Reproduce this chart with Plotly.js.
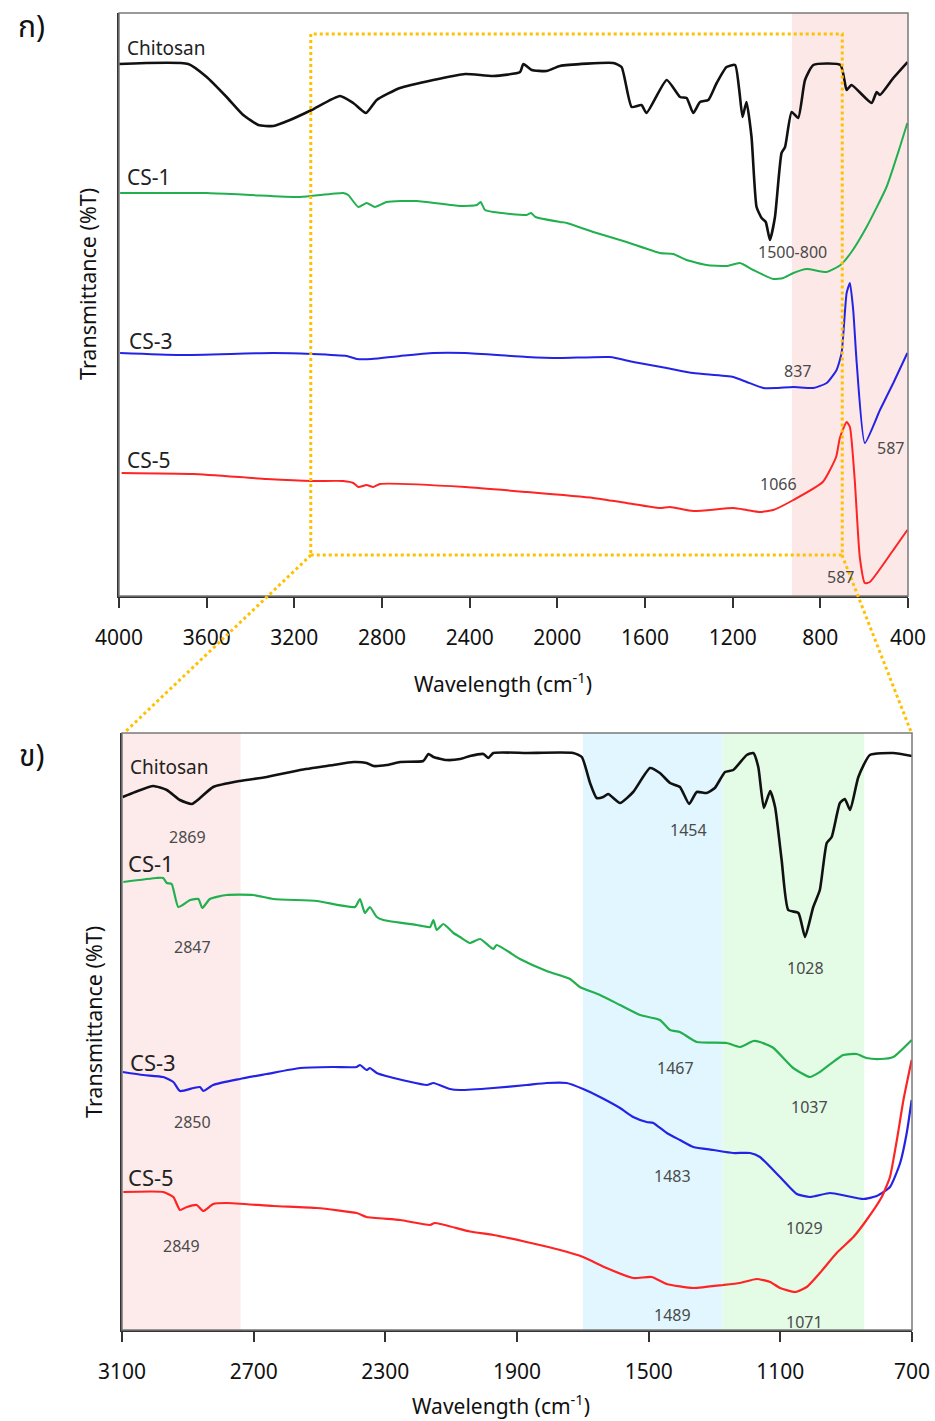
<!DOCTYPE html>
<html><head><meta charset="utf-8">
<script src="https://cdn.plot.ly/plotly-3.0.1.min.js"></script>
<style>html,body{margin:0;padding:0;background:#fff}</style>
</head><body><div id="chart" style="width:935px;height:1421px"></div>
<script>
// ---------- Panel ก) full range 4000-400 cm-1 ----------
const topTicks = [4000,3600,3200,2800,2400,2000,1600,1200,800,400];
const topWnChitosan = [4000,3684,3600,3509,3433,3364,3296,3220,3121,2992,2931,2873,2824,2718,2566,2420,2292,2170,2155,2117,2049,1988,1745,1707,1661,1616,1593,1501,1440,1410,1380,1349,1311,1273,1228,1189,1170,1155,1137,1114,1091,1068,1049,1030,1007,977,961,931,901,870,832,708,680,658,566,543,528,467,402];
const topChitosan = [53.2,53.2,51.9,49.9,48.1,47.1,47.0,47.6,48.6,50.0,49.3,48.3,49.6,50.8,51.6,52.2,52.0,52.4,53.2,52.6,52.5,53.0,53.3,52.9,48.9,49.1,48.3,51.6,49.9,49.8,48.3,49.4,49.6,51.3,52.9,53.1,50.6,47.9,49.4,45.9,38.9,37.8,37.4,35.6,37.9,44.3,44.9,48.4,47.8,51.6,53.1,53.1,50.6,51.1,49.3,50.4,50.1,51.8,53.4];
const topWnCS1 = [3995,3800,3600,3400,3174,2977,2954,2908,2870,2832,2779,2642,2444,2368,2350,2330,2292,2140,2120,2100,1988,1957,1836,1684,1532,1471,1410,1319,1228,1167,1106,1015,969,923,862,771,708,658,589,498,437,403];
const topCS1 = [40.3,40.3,40.3,40.1,39.9,40.3,40.1,38.9,39.3,38.9,39.4,39.5,39.0,39.1,39.4,38.6,38.4,38.1,38.3,37.9,37.4,37.3,36.4,35.4,34.3,34.2,33.6,33.1,33.0,33.3,32.6,31.7,31.8,32.3,32.7,32.4,33.1,34.4,36.9,40.9,44.9,47.3];
const topWnCS3 = [3995,3722,3296,3121,2961,2915,2847,2718,2566,2420,2140,1988,1760,1653,1501,1380,1197,1136,1060,999,923,832,771,726,703,680,665,650,634,597,528,467,403];
const topCS3 = [24.3,24.1,24.3,24.2,24.0,23.7,23.7,24.0,24.3,24.3,23.9,23.8,23.9,23.4,22.8,22.3,21.9,21.4,20.8,20.8,20.9,20.8,21.3,22.6,24.3,30.3,31.3,28.6,23.3,15.3,18.6,21.3,24.3];
const topWnCS5 = [3988,3661,3326,3121,2977,2931,2908,2870,2840,2809,2420,2140,1836,1684,1532,1486,1380,1197,1136,1075,1015,923,789,728,711,680,665,643,620,597,574,467,403];
const topCS5 = [12.3,12.2,11.7,11.5,11.5,11.3,10.9,11.1,10.9,11.2,10.9,10.4,9.8,9.3,8.8,8.9,8.5,8.8,8.6,8.4,8.6,9.6,11.4,13.9,15.8,17.4,16.9,11.6,3.9,1.3,1.4,4.6,6.6];

// ---------- Panel ข) zoom 3100-700 cm-1 ----------
const botTicks = [3100,2700,2300,1900,1500,1100,700];
const botWnChitosan = [3098,3060,3005,2964,2924,2888,2863,2823,2742,2660,2559,2458,2397,2357,2336,2296,2255,2185,2169,2154,2114,2073,2043,2002,1987,1972,1871,1729,1703,1678,1658,1638,1623,1587,1547,1496,1466,1435,1405,1377,1354,1324,1299,1268,1243,1202,1182,1167,1150,1131,1116,1096,1076,1045,1025,1000,980,959,944,919,904,888,863,828,757,700];
const botChitosan = [53.3,53.8,54.4,54.0,53.0,52.6,53.2,54.3,54.9,55.3,56.0,56.5,56.8,56.7,56.4,56.5,56.8,56.9,57.6,57.3,57.0,57.1,57.4,57.6,57.2,57.7,57.7,57.7,57.3,54.7,53.2,53.3,53.6,52.7,53.8,56.2,55.7,54.7,54.3,52.6,53.8,53.7,54.2,55.8,56.0,57.5,57.7,56.3,52.2,53.9,52.3,47.0,42.0,41.7,39.3,42.3,44.0,48.7,49.3,52.7,53.1,52.0,55.3,57.5,57.7,57.4];
const botWnCS1 = [3096,2995,2975,2964,2949,2929,2893,2868,2856,2833,2782,2701,2640,2508,2392,2377,2362,2347,2326,2306,2205,2164,2154,2144,2124,2093,2073,2043,2012,1972,1962,1891,1810,1739,1709,1648,1587,1526,1466,1435,1405,1354,1263,1223,1182,1162,1121,1061,1010,980,909,868,838,797,757,701];
const botCS1 = [44.8,45.2,45.2,44.7,44.6,42.3,43.0,43.1,42.2,43.1,43.5,43.5,43.1,42.9,42.3,43.1,41.7,42.3,41.3,41.0,40.5,40.3,41.0,40.0,40.6,39.7,39.3,38.7,39.1,38.1,38.5,37.1,35.9,35.1,34.3,33.5,32.5,31.5,31.0,30.0,29.8,28.8,28.7,28.3,28.9,28.8,28.2,26.2,25.3,25.8,27.5,27.6,27.2,27.1,27.3,29.0];
const botWnCS3 = [3098,3035,2975,2944,2924,2883,2863,2853,2823,2742,2660,2559,2458,2387,2377,2357,2347,2326,2286,2174,2154,2104,2073,1972,1871,1810,1749,1699,1648,1587,1547,1506,1486,1445,1405,1364,1303,1243,1192,1162,1101,1050,1010,949,898,848,807,767,736,716,701];
const botCS3 = [25.8,25.5,25.3,24.8,23.9,24.2,24.3,23.9,24.5,25.1,25.6,26.2,26.3,26.3,26.5,26.0,26.2,25.7,25.3,24.5,24.7,24.1,24.0,24.2,24.5,24.7,24.7,24.1,23.3,22.2,21.3,20.8,20.7,19.7,19.0,18.3,18.0,17.7,17.7,17.3,15.3,13.6,13.3,13.7,13.4,13.1,13.4,14.3,16.7,19.7,23.0];
const botWnCS5 = [3096,2975,2944,2924,2903,2873,2853,2823,2782,2640,2508,2387,2357,2255,2164,2150,2043,1972,1871,1769,1699,1628,1547,1491,1445,1364,1273,1223,1172,1131,1101,1055,1020,980,929,878,838,792,767,746,726,701];
const botCS5 = [13.8,13.8,13.3,12.0,12.3,12.5,11.9,12.6,12.7,12.4,12.2,11.7,11.3,11.0,10.5,10.7,9.85,9.5,8.8,8.0,7.3,6.2,5.2,5.3,4.6,4.2,4.5,4.7,5.1,4.8,4.2,3.8,4.3,5.7,7.7,9.3,11.0,13.3,15.3,19.0,23.0,27.0];

// labels
const sampleNames = ['Chitosan','CS-1','CS-3','CS-5'];
const topPeakText = ['1500-800','837','587','1066','587'];
const topPeakX = [925,902,482,993,710];
const topPeakY = [34.4,22.5,14.8,11.2,1.9];
const botPeakText = ['2869','2847','2850','2849','1454','1028','1467','1037','1483','1029','1489','1071'];
const botPeakX = [2900,2887,2887,2918,1380,1025,1417,1010,1429,1028,1429,1028];
const botPeakY = [49.3,38.3,20.8,8.4,50.0,36.2,26.2,22.3,15.4,10.2,1.5,0.8];

const colors = ['#111111','#22b04e','#2323e6','#ff2424'];
const FONT = "'Noto Sans','Open Sans','DejaVu Sans',sans-serif";
const THAI = "'Noto Sans Thai','Noto Sans Thai UI','Loma','Garuda','Norasi','Noto Sans','DejaVu Sans',sans-serif";

const topX = [topWnChitosan, topWnCS1, topWnCS3, topWnCS5];
const topY = [topChitosan, topCS1, topCS3, topCS5];
const botX = [botWnChitosan, botWnCS1, botWnCS3, botWnCS5];
const botY = [botChitosan, botCS1, botCS3, botCS5];

const traces = [];
for (let i = 0; i < 4; i++) {
  traces.push({x: topX[i], y: topY[i], xaxis: 'x', yaxis: 'y', type: 'scatter', mode: 'lines',
    name: sampleNames[i], line: {color: colors[i], width: i === 0 ? 2.6 : 2, shape: 'spline', smoothing: 0.5}, hoverinfo: 'skip'});
}
for (let i = 0; i < 4; i++) {
  traces.push({x: botX[i], y: botY[i], xaxis: 'x2', yaxis: 'y2', type: 'scatter', mode: 'lines',
    name: sampleNames[i], line: {color: colors[i], width: i === 0 ? 2.6 : 2.2, shape: 'spline', smoothing: 0.5}, hoverinfo: 'skip'});
}

const W = 935, H = 1421;
const px = v => v / W, py = v => 1 - v / H;

const xCommon = {ticks: 'outside', ticklen: 10, tickwidth: 2, tickcolor: '#333', showline: true,
  linecolor: '#333', linewidth: 2, showgrid: false, zeroline: false, ticklabelstandoff: 12,
  tickfont: {family: FONT, size: 21, color: '#111'}, tickmode: 'array', fixedrange: true};
const yCommon = {showline: true, linecolor: '#333', linewidth: 2, showticklabels: false, ticks: '',
  showgrid: false, zeroline: false, fixedrange: true};

const gold = '#ffc000';
const shapes = [
  {type: 'rect', xref: 'x', yref: 'y domain', x0: 930, x1: 400, y0: 0, y1: 1, fillcolor: '#fde8e8', line: {width: 0}, layer: 'below'},
  {type: 'rect', xref: 'x2', yref: 'y2 domain', x0: 3100, x1: 2740, y0: 0, y1: 1, fillcolor: '#fdeaea', line: {width: 0}, layer: 'below'},
  {type: 'rect', xref: 'x2', yref: 'y2 domain', x0: 1700, x1: 1275, y0: 0, y1: 1, fillcolor: '#e1f6fe', line: {width: 0}, layer: 'below'},
  {type: 'rect', xref: 'x2', yref: 'y2 domain', x0: 1275, x1: 845, y0: 0, y1: 1, fillcolor: '#e4fbe6', line: {width: 0}, layer: 'below'},
  {type: 'rect', xref: 'x domain', yref: 'y domain', x0: 0, x1: 1, y0: 0, y1: 1, line: {color: '#7a7a7a', width: 1.5}},
  {type: 'rect', xref: 'x2 domain', yref: 'y2 domain', x0: 0, x1: 1, y0: 0, y1: 1, line: {color: '#7a7a7a', width: 1.5}},
  {type: 'rect', xref: 'x', yref: 'y', x0: 3125, x1: 700, y0: 4.1, y1: 56.2, line: {color: gold, width: 3, dash: 'dot'}},
  {type: 'line', xref: 'paper', yref: 'paper', x0: px(311), y0: py(555), x1: px(124), y1: py(733), line: {color: gold, width: 3, dash: 'dot'}},
  {type: 'line', xref: 'paper', yref: 'paper', x0: px(842), y0: py(555), x1: px(911.5), y1: py(733), line: {color: gold, width: 3, dash: 'dot'}}
];

const annotations = [];
const topNameX = [3973,3973,3964,3973], topNameY = [54.8,41.9,25.5,13.6], topNameS = [19,21,21,21];
const botNameX = [3082,3088,3082,3088], botNameY = [56.3,46.7,26.8,15.3], botNameS = [19,22,22,22];
for (let i = 0; i < 4; i++) {
  annotations.push({xref: 'x', yref: 'y', x: topNameX[i], y: topNameY[i], text: sampleNames[i], showarrow: false,
    xanchor: 'left', yanchor: 'middle', font: {family: FONT, size: topNameS[i], color: '#222'}});
  annotations.push({xref: 'x2', yref: 'y2', x: botNameX[i], y: botNameY[i], text: sampleNames[i], showarrow: false,
    xanchor: 'left', yanchor: 'middle', font: {family: FONT, size: botNameS[i], color: '#222'}});
}
for (let i = 0; i < topPeakText.length; i++) {
  annotations.push({xref: 'x', yref: 'y', x: topPeakX[i], y: topPeakY[i], text: topPeakText[i], showarrow: false,
    xanchor: 'center', yanchor: 'middle', font: {family: FONT, size: 16, color: '#4a4a4a'}});
}
for (let i = 0; i < botPeakText.length; i++) {
  annotations.push({xref: 'x2', yref: 'y2', x: botPeakX[i], y: botPeakY[i], text: botPeakText[i], showarrow: false,
    xanchor: 'center', yanchor: 'middle', font: {family: FONT, size: 16, color: '#4a4a4a'}});
}
// axis titles
const xTitle = 'Wavelength (cm<sup>-1</sup>)', yTitle = 'Transmittance (%T)';
annotations.push({xref: 'paper', yref: 'paper', x: px(503.5), y: py(683), text: xTitle, showarrow: false,
  xanchor: 'center', yanchor: 'middle', font: {family: FONT, size: 21, color: '#111'}});
annotations.push({xref: 'paper', yref: 'paper', x: px(501), y: py(1404), text: xTitle, showarrow: false,
  xanchor: 'center', yanchor: 'middle', font: {family: FONT, size: 21, color: '#111'}});
annotations.push({xref: 'paper', yref: 'paper', x: px(88), y: py(284), text: yTitle, showarrow: false, textangle: -90,
  xanchor: 'center', yanchor: 'middle', font: {family: FONT, size: 21.5, color: '#111'}});
annotations.push({xref: 'paper', yref: 'paper', x: px(93), y: py(1022), text: yTitle, showarrow: false, textangle: -90,
  xanchor: 'center', yanchor: 'middle', font: {family: FONT, size: 21.5, color: '#111'}});
// panel labels
annotations.push({xref: 'paper', yref: 'paper', x: px(31), y: py(28), text: 'ก)', showarrow: false,
  xanchor: 'center', yanchor: 'middle', font: {family: THAI, size: 30, color: '#111'}});
annotations.push({xref: 'paper', yref: 'paper', x: px(31), y: py(757), text: 'ข)', showarrow: false,
  xanchor: 'center', yanchor: 'middle', font: {family: THAI, size: 30, color: '#111'}});

const layout = {
  width: W, height: H, autosize: false,
  margin: {l: 0, r: 0, t: 0, b: 0, pad: 0},
  paper_bgcolor: '#fff', plot_bgcolor: '#fff', showlegend: false, hovermode: false,
  xaxis: Object.assign({}, xCommon, {domain: [px(119), px(908)], range: [4000, 400], anchor: 'y',
    tickvals: topTicks, ticktext: topTicks.map(String)}),
  yaxis: Object.assign({}, yCommon, {domain: [py(596), py(13)], range: [0, 58.3], anchor: 'x'}),
  xaxis2: Object.assign({}, xCommon, {domain: [px(122), px(912)], range: [3100, 700], anchor: 'y2',
    tickvals: botTicks, ticktext: botTicks.map(String)}),
  yaxis2: Object.assign({}, yCommon, {domain: [py(1330), py(733)], range: [0, 59.7], anchor: 'x2'}),
  shapes: shapes, annotations: annotations
};

Plotly.newPlot('chart', traces, layout, {displayModeBar: false, staticPlot: true});
</script></body></html>
